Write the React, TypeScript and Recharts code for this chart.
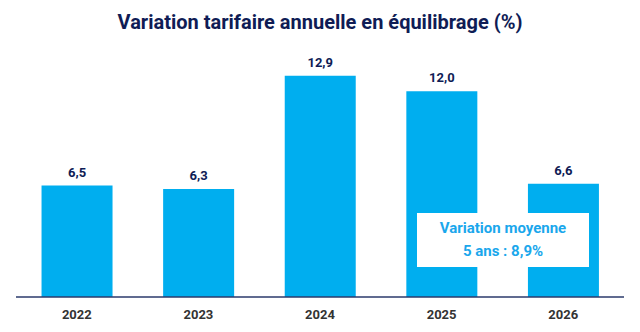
import React from 'react';
import { BarChart, Bar, XAxis, YAxis, LabelList } from 'recharts';

const years = ['2022', '2023', '2024', '2025', '2026'];
const variations = [6.5, 6.3, 12.9, 12.0, 6.6];
const averageLabel = ['Variation moyenne', '5 ans : 8,9%'];

const data = years.map((year, i) => ({ year, value: variations[i] }));

const FONT = 'Roboto, "Liberation Sans", sans-serif';
const formatFr = (v: number) => v.toFixed(1).replace('.', ',');

const App: React.FC = () => {
  return (
    <div style={{ position: 'fixed', left: 0, top: 0, width: 640, height: 332, background: '#fff', fontFamily: FONT }}>
      <div style={{ position: 'absolute', top: 10, left: 0, width: 640, textAlign: 'center', fontSize: 20, fontWeight: 700, color: '#0f1c55' }}>
        Variation tarifaire annuelle en équilibrage (%)
      </div>
      <BarChart width={640} height={332} data={data} margin={{ top: 57, right: 16, bottom: 0, left: 16 }} barCategoryGap="21%">
        <XAxis
          dataKey="year"
          height={35}
          tickLine={false}
          axisLine={{ stroke: '#2b3a6b', strokeWidth: 1.5 }}
          tickMargin={7}
          tick={{ fill: '#333333', fontSize: 13, fontWeight: 700, fontFamily: FONT }}
        />
        <YAxis hide domain={[0, 14]} />
        <Bar dataKey="value" fill="#00aeef" isAnimationActive={false}>
          <LabelList
            dataKey="value"
            position="top"
            offset={9}
            formatter={(v: any) => formatFr(Number(v))}
            style={{ fill: '#0f1c55', fontSize: 13, fontWeight: 700, fontFamily: FONT }}
          />
        </Bar>
      </BarChart>
      <div style={{
        position: 'absolute', left: 417, top: 213, width: 172, height: 54, background: '#fff',
        display: 'flex', flexDirection: 'column', alignItems: 'center', justifyContent: 'center',
        color: '#1aa7ec', fontSize: 15, fontWeight: 700, lineHeight: '23px',
      }}>
        {averageLabel.map((t) => <div key={t}>{t}</div>)}
      </div>
    </div>
  );
};

export default App;
